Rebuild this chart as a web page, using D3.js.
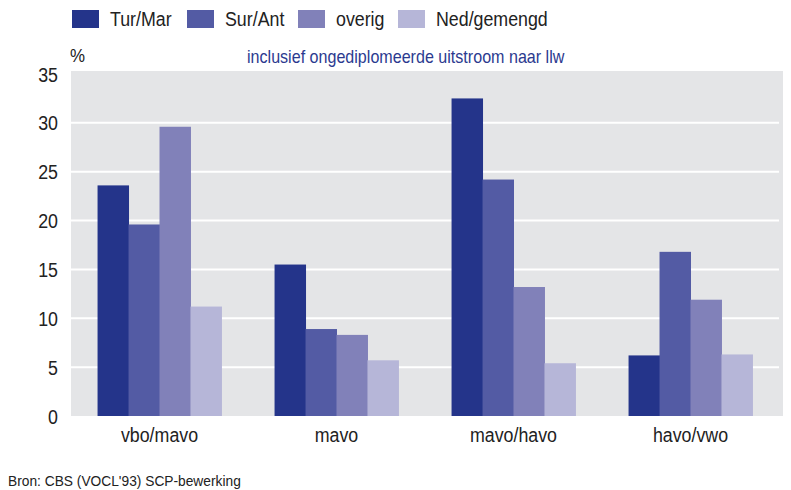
<!DOCTYPE html>
<html><head><meta charset="utf-8">
<script src="https://cdn.jsdelivr.net/npm/d3@7/dist/d3.min.js"></script>
<style>body{margin:0;background:#fff}svg{display:block}text{font-family:"Liberation Sans",Arial,Helvetica,sans-serif;fill:#222}</style>
</head><body><svg id="c" width="791" height="490"></svg>
<script>
const categories = ["vbo/mavo", "mavo", "mavo/havo", "havo/vwo"];
const seriesNames = ["Tur/Mar", "Sur/Ant", "overig", "Ned/gemengd"];
const turMar = [23.6, 15.5, 32.5, 6.2];
const surAnt = [19.6, 8.9, 24.2, 16.8];
const overig = [29.6, 8.3, 13.2, 11.9];
const nedGemengd = [11.2, 5.7, 5.4, 6.3];
const yTicks = [0, 5, 10, 15, 20, 25, 30, 35];
const colors = ["#24348a", "#535ba4", "#8181b9", "#b6b6d8"];
const subtitle = "inclusief ongediplomeerde uitstroom naar llw";
const unitLabel = "%";
const source = "Bron: CBS (VOCL'93) SCP-bewerking";

const seriesValues = [turMar, surAnt, overig, nedGemengd];
const svg = d3.select("#c");
function label(g, x, y, str, size, anchor, color, sx) {
  const t = g.append("g").attr("transform", `translate(${x},${y}) scale(${sx || 0.89},1)`)
    .append("text").attr("font-size", size).attr("text-anchor", anchor || "start").text(str);
  if (color) t.style("fill", color);
  return t;
}

const x0 = d3.scaleBand().domain(categories).range([71, 779]).paddingInner(0.3).paddingOuter(0.15);
const x1 = d3.scaleBand().domain(seriesNames).range([0, x0.bandwidth()]);
const y = d3.scaleLinear().domain([0, 35]).range([416, 74]);

// background
svg.append("rect").attr("x", 71).attr("y", 71).attr("width", 712).attr("height", 416 - 71).attr("fill", "#e4e5e7");

// gridlines
svg.append("g").selectAll("line").data(yTicks.filter(d => d > 0 && d < 35)).join("line")
  .attr("x1", 71).attr("x2", 779).attr("y1", d => y(d)).attr("y2", d => y(d))
  .attr("stroke", "#fff").attr("stroke-width", 2);

// bars
const groups = svg.append("g").selectAll("g").data(categories).join("g")
  .attr("transform", d => `translate(${x0(d)},0)`);
groups.selectAll("rect").data((c, i) => seriesNames.map((s, j) => ({s, j, v: seriesValues[j][i]}))).join("rect")
  .attr("x", d => x1(d.s)).attr("width", x1.bandwidth() + 0.5)
  .attr("y", d => y(d.v)).attr("height", d => y(0) - y(d.v))
  .attr("fill", d => colors[d.j]);

// y axis labels
const yl = svg.append("g");
yTicks.forEach(t => label(yl, 58, y(t) + 7.5, String(t), 20, "end"));

// x axis labels
const xl = svg.append("g");
categories.forEach(c => label(xl, x0(c) + x0.bandwidth() / 2, 442, c, 20, "middle"));

// unit label
label(svg, 70, 62, unitLabel, 19, "start");

// subtitle
label(svg, 247, 63, subtitle, 17.5, "start", "#2b3a8f", 0.92);

// legend
const legX = [72, 187, 298, 398];
const lg = svg.append("g");
seriesNames.forEach((s, i) => {
  lg.append("rect").attr("x", legX[i]).attr("y", 10).attr("width", 27).attr("height", 18).attr("fill", colors[i]);
  label(lg, legX[i] + 38, 26, s, 20, "start");
});

// source
label(svg, 8, 486, source, 14.5, "start", null, 0.95);
</script></body></html>
